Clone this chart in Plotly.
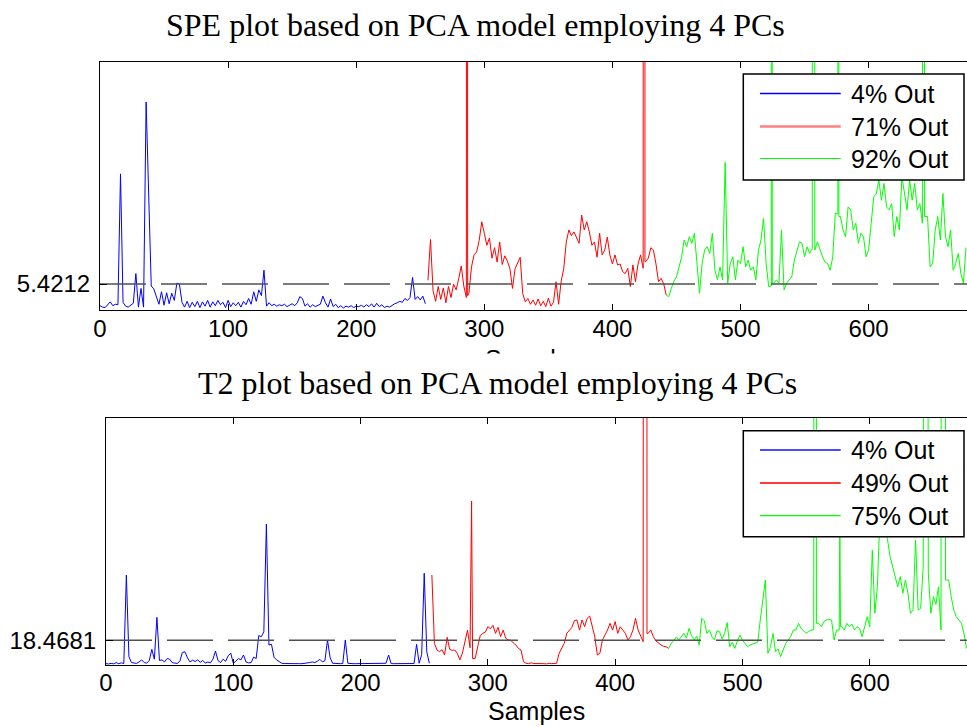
import plotly.graph_objects as go

W, H = 967, 727

# ---------------- data ----------------
STEP = 2  # samples between stored points

spe_limit = 5.4212
t2_limit = 18.4681
spe_labels = ["4% Out", "71% Out", "92% Out"]
t2_labels = ["4% Out", "49% Out", "75% Out"]
x_ticks = [0, 100, 200, 300, 400, 500, 600]

spe_blue_start = 0
spe_blue = [0.9, 0.6, 0.5, 1.0, 1.7, 0.9, 1.2, 1.1, 28.4, 1.6, 0.8, 0.6, 1.1, 1.4, 7.6, 0.6,
            4.5, 0.6, 43.4, 24.0, 5.0, 4.4, 3.0, 1.2, 3.8, 1.0, 3.6, 1.3, 3.5, 2.0, 5.6, 5.4,
            1.6, 0.6, 1.8, 0.5, 1.6, 0.7, 1.8, 0.5, 1.7, 0.8, 2.0, 0.6, 1.7, 0.9, 2.0, 1.1,
            1.6, 0.5, 2.0, 0.7, 1.5, 0.9, 1.6, 0.6, 1.8, 1.1, 2.4, 1.2, 3.8, 1.8, 4.2, 3.0,
            8.3, 0.8, 1.5, 0.9, 1.2, 0.8, 1.1, 0.9, 1.2, 0.7, 1.0, 1.3, 0.9, 1.5, 2.8, 2.4,
            0.8, 1.3, 0.6, 1.1, 0.7, 0.9, 1.2, 2.9, 1.5, 0.6, 2.3, 0.7, 1.2, 0.5, 0.9, 0.4,
            0.8, 0.6, 0.9, 0.5, 0.8, 0.7, 1.0, 0.6, 1.1, 0.7, 1.3, 0.6, 1.4, 0.7, 1.1, 0.5,
            0.8, 0.6, 1.0, 1.3, 1.5, 1.8, 1.6, 2.4, 2.0, 2.6, 6.8, 2.2, 2.8, 2.1, 2.9, 1.3]
spe_blue_spike_x, spe_blue_spike_y = [], []

spe_red_start = 256
spe_red = [6.2, 14.7, 4.0, 1.8, 4.9, 2.2, 4.6, 1.5, 4.9, 2.6, 5.4, 4.2, 6.5, 9.2, 5.0, 2.6,
           3.5, 9.0, 11.5, 12.1, 14.5, 18.4, 16.0, 13.5, 15.0, 10.8, 13.0, 10.0, 14.2, 9.5, 11.3, 10.2,
           8.6, 4.5, 8.6, 9.8, 11.0, 3.4, 1.7, 2.4, 1.2, 2.1, 1.0, 2.3, 0.9, 1.8, 0.7, 2.5,
           0.8, 1.6, 5.9, 1.2, 6.0, 8.6, 14.2, 16.7, 15.5, 16.3, 15.2, 13.9, 19.8, 16.7, 18.4, 16.3,
           13.5, 14.2, 11.0, 16.0, 11.5, 12.5, 15.2, 11.5, 9.6, 11.5, 9.4, 9.6, 8.0, 7.6, 8.7, 4.9,
           9.4, 5.9, 9.6, 11.5, 8.7, 10.1, 10.8, 13.0, 12.5, 9.6, 5.9, 6.6, 5.5, 3.1]
spe_red_spike_x = [286.5, 287.0, 424.1, 425.3, 425.4]
spe_red_spike_y = [400, 3.0, 400, 400, 10.1]

spe_green_start = 442
spe_green = [3.1, 2.8, 4.5, 6.0, 6.9, 9.0, 11.0, 14.6, 13.2, 15.3, 13.9, 16.0, 9.7, 3.5, 9.7, 12.5,
             13.2, 11.8, 16.0, 8.3, 6.3, 9.0, 6.3, 30.8, 5.6, 9.7, 11.1, 6.3, 10.4, 9.7, 13.2, 9.0,
             10.4, 8.3, 9.0, 6.3, 12.5, 14.6, 19.1, 9.7, 4.9, 5.0, 5.6, 6.3, 5.6, 16.7, 4.2, 5.6,
             6.3, 6.9, 10.4, 12.5, 14.2, 13.9, 11.1, 13.2, 11.8, 12.8, 12.5, 14.2, 12.5, 11.1, 10.0, 9.7,
             8.3, 11.1, 20.2, 20.0, 19.5, 16.7, 15.3, 21.5, 20.9, 16.7, 18.1, 13.9, 16.0, 15.3, 11.1, 12.5,
             18.1, 23.6, 24.3, 27.1, 22.9, 26.4, 21.5, 20.9, 22.2, 15.3, 19.5, 16.7, 27.8, 24.3, 20.9, 27.1,
             22.9, 26.4, 20.9, 22.2, 18.1, 19.5, 19.5, 9.0, 9.7, 16.7, 19.5, 14.6, 24.3, 15.3, 13.2, 16.7,
             8.3, 9.7, 11.8, 7.6, 5.6, 13.0]
spe_green_spike_x = [524.3, 524.8, 556.3, 557.6, 557.8, 576.3, 576.8, 642.2, 643.5, 643.7]
spe_green_spike_y = [400, 5.6, 400, 400, 12.5, 400, 19.5, 400, 400, 19.5]

t2_blue_start = 0
t2_blue = [1.2, 1.0, 1.4, 1.1, 2.0, 1.2, 1.8, 1.3, 66.7, 6.4, 2.0, 1.5, 1.4, 2.5, 4.0, 2.0,
           1.6, 3.5, 11.8, 4.5, 35.4, 3.5, 4.0, 2.5, 5.0, 4.5, 2.0, 1.6, 1.4, 3.0, 9.5, 10.0,
           5.5, 2.5, 3.8, 2.8, 4.0, 2.2, 3.6, 1.6, 2.4, 1.8, 4.5, 10.5, 3.5, 2.0, 4.5, 3.0,
           7.0, 9.0, 1.5, 3.0, 5.0, 4.0, 7.6, 2.5, 1.8, 2.0, 6.0, 5.0, 22.0, 21.1, 24.8, 104.4,
           15.0, 15.5, 6.0, 4.0, 2.5, 1.5, 1.3, 1.2, 1.2, 1.2, 1.2, 1.2, 1.2, 1.2, 1.3, 1.6,
           2.0, 2.5, 2.0, 3.0, 4.4, 2.5, 3.5, 18.7, 6.0, 1.5, 1.3, 1.2, 1.2, 1.3, 18.7, 1.5,
           1.2, 1.2, 1.2, 1.2, 1.2, 1.2, 1.2, 1.2, 1.2, 1.2, 1.2, 1.2, 1.2, 1.2, 1.5, 7.6,
           1.3, 1.2, 1.2, 1.2, 1.2, 1.2, 1.2, 1.2, 1.2, 1.3, 15.5, 1.5, 8.0, 68.0, 10.0, 1.5]
t2_blue_spike_x, t2_blue_spike_y = [], []

t2_red_start = 256
t2_red = [66.7, 16.2, 11.3, 10.1, 11.5, 7.6, 20.7, 11.8, 11.0, 11.3, 8.8, 4.0, 9.0, 18.7, 26.0, 13.0,
          5.0, 5.0, 13.7, 22.0, 23.6, 24.5, 28.5, 27.0, 29.5, 23.6, 28.0, 21.1, 26.0, 20.0, 18.7, 18.5,
          16.5, 15.0, 12.5, 11.3, 2.7, 1.5, 1.2, 1.8, 1.3, 1.4, 1.0, 1.6, 1.2, 1.0, 1.5, 1.2,
          1.3, 1.5, 8.9, 12.5, 16.2, 23.6, 26.0, 28.0, 33.0, 33.5, 26.0, 33.5, 28.5, 34.7, 36.4, 28.5,
          21.0, 7.6, 8.9, 18.7, 22.0, 26.1, 31.0, 26.0, 32.3, 23.6, 28.5, 26.0, 23.6, 18.7, 21.1, 26.1,
          34.7, 26.1, 21.1, 17.4, 1500, 23.6, 26.1, 21.1, 18.0, 16.2, 15.0, 14.0, 13.7, 12.5]
t2_red_spike_x = [287.2, 422.7, 424.8, 425.0]
t2_red_spike_y = [121.3, 1500, 1500, 23.6]

t2_green_start = 442
t2_green = [12.5, 16.2, 18.0, 21.0, 18.7, 21.5, 23.6, 20.0, 27.3, 22.0, 18.7, 21.5, 15.0, 34.7, 33.0, 23.6,
            26.1, 21.1, 18.7, 25.5, 24.8, 19.5, 23.6, 31.6, 13.7, 17.0, 12.5, 18.0, 22.4, 18.7, 16.5, 13.7,
            15.0, 15.5, 16.2, 17.0, 33.5, 48.2, 63.0, 8.9, 13.7, 23.6, 10.0, 12.0, 6.4, 11.3, 16.2, 18.7,
            21.5, 26.1, 26.1, 31.0, 27.3, 25.5, 23.6, 25.0, 26.1, 26.1, 31.0, 31.0, 28.5, 32.3, 33.5, 33.8,
            33.5, 18.7, 26.1, 26.0, 28.5, 26.1, 31.0, 28.5, 30.4, 26.1, 28.5, 27.3, 21.1, 28.5, 35.9, 28.5,
            85.2, 38.4, 58.0, 110, 120, 100, 92.6, 80.2, 72.8, 66.0, 58.0, 65.5, 53.2, 63.0, 53.2, 38.4,
            40.9, 92.6, 40.9, 42.0, 72.8, 1500, 68.0, 38.4, 50.7, 45.0, 58.0, 26.1, 1500, 63.0, 63.0, 50.7,
            40.9, 35.9, 33.0, 31.0, 23.6, 12.5]
t2_green_spike_x = [556.6, 557.9, 558.1, 576.5, 577.0, 656.7, 659.3, 659.5]
t2_green_spike_y = [1500, 1500, 31.0, 110, 28.5, 1500, 1500, 63.0]


def series(start, values, extra_x, extra_y):
    """Regular samples plus the extra points around narrow spikes, in sample order."""
    pts = list(zip(range(start, start + STEP * len(values), STEP), values))
    pts += list(zip(extra_x, extra_y))
    pts.sort(key=lambda p: p[0])
    return [p[0] for p in pts], [p[1] for p in pts]


# ---------------- styling helpers ----------------
def px(x):
    return x / W


def py(y):
    return 1 - y / H


COLORS = ["#0000ff", "#ff0000", "#00ff00"]
TICK_FONT = dict(family="Liberation Sans, Arial, sans-serif", size=24, color="black")
TITLE_FONT = dict(family="Liberation Serif, Times New Roman, serif", size=32, color="black")
LEGEND_FONT = dict(family="Liberation Sans, Arial, sans-serif", size=25, color="black")

SPE_X_MAX, SPE_Y_MAX = 676.8, 51.8
T2_X_MAX, T2_Y_MAX = 676.4, 182.9

fig = go.Figure()

panels = [
    ("x", "y",
     [(spe_blue_start, spe_blue, spe_blue_spike_x, spe_blue_spike_y),
      (spe_red_start, spe_red, spe_red_spike_x, spe_red_spike_y),
      (spe_green_start, spe_green, spe_green_spike_x, spe_green_spike_y)],
     spe_limit, SPE_X_MAX),
    ("x2", "y2",
     [(t2_blue_start, t2_blue, t2_blue_spike_x, t2_blue_spike_y),
      (t2_red_start, t2_red, t2_red_spike_x, t2_red_spike_y),
      (t2_green_start, t2_green, t2_green_spike_x, t2_green_spike_y)],
     t2_limit, T2_X_MAX),
]

for xa, ya, groups, limit, xmax in panels:
    for (start, vals, ex, ey), color in zip(groups, COLORS):
        xs, ys = series(start, vals, ex, ey)
        fig.add_trace(go.Scatter(x=xs, y=ys, mode="lines",
                                 line=dict(color=color, width=1), xaxis=xa, yaxis=ya,
                                 showlegend=False, hoverinfo="skip"))
    # control limit
    fig.add_trace(go.Scatter(x=[0, xmax], y=[limit, limit], mode="lines",
                             line=dict(color="#505050", width=1.5, dash="46px,15px"),
                             xaxis=xa, yaxis=ya, showlegend=False, hoverinfo="skip"))

axis_common = dict(showgrid=False, zeroline=False, showline=True, linecolor="black",
                   linewidth=1, ticks="inside", ticklen=6, tickcolor="black",
                   tickfont=TICK_FONT, automargin=False)

fig.update_layout(
    width=W, height=H, template="none",
    margin=dict(l=0, r=0, t=0, b=0),
    paper_bgcolor="white", plot_bgcolor="white",
    showlegend=False,
    xaxis=dict(axis_common, domain=[px(100), 1.0], range=[0, SPE_X_MAX], anchor="y",
               tickvals=x_ticks, mirror="ticks", ticklabelstandoff=-3),
    yaxis=dict(axis_common, domain=[py(310), py(61.7)], range=[0, SPE_Y_MAX], anchor="x",
               tickvals=[spe_limit], ticktext=[f"{spe_limit:.4f}"], ticklen=7,
               ticklabelstandoff=4),
    xaxis2=dict(axis_common, domain=[px(106), 1.0], range=[0, T2_X_MAX], anchor="y2",
                tickvals=x_ticks, mirror="ticks", ticklabelstandoff=-4),
    yaxis2=dict(axis_common, domain=[py(665.3), py(417.7)], range=[0, T2_Y_MAX], anchor="x2",
                tickvals=[t2_limit], ticktext=[f"{t2_limit:.4f}"], ticklen=7,
                ticklabelstandoff=4),
)

annotations = [
    dict(text="SPE plot based on PCA model employing 4 PCs", x=px(475), y=py(25),
         font=TITLE_FONT),
    dict(text="Samples", x=px(533.5), y=py(359), font=dict(TICK_FONT, size=25)),
    dict(text="T2 plot based on PCA model employing 4 PCs", x=px(497.5), y=py(383),
         font=TITLE_FONT, bgcolor="white", borderpad=11),
    dict(text="Samples", x=px(536.5), y=py(711), font=dict(TICK_FONT, size=25)),
]
for a in annotations:
    a.update(xref="paper", yref="paper", xanchor="center", yanchor="middle", showarrow=False)

shapes = []
legend_boxes = [
    (spe_labels, 74, 180, [93.5, 126.5, 158.5],
     [("#0000ff", 1.5), ("#ff8080", 2.5), ("#00ff00", 1.2)]),
    (t2_labels, 430.7, 536.7, [450, 483, 515.7],
     [("#4b4bff", 2), ("#ff3a3a", 2), ("#00ff00", 1.2)]),
]
for labels, top, bottom, rows, styles in legend_boxes:
    shapes.append(dict(type="rect", xref="paper", yref="paper", layer="above",
                       x0=px(743.3), x1=px(964), y0=py(bottom), y1=py(top),
                       fillcolor="white", line=dict(color="black", width=1.5)))
    for label, row, (color, width) in zip(labels, rows, styles):
        shapes.append(dict(type="line", xref="paper", yref="paper", layer="above",
                           x0=px(760), x1=px(840.7), y0=py(row), y1=py(row),
                           line=dict(color=color, width=width)))
        annotations.append(dict(text=label, x=px(849.3), y=py(row), xref="paper", yref="paper",
                                xanchor="left", yanchor="middle", showarrow=False,
                                font=LEGEND_FONT))

fig.update_layout(annotations=annotations, shapes=shapes)

fig.write_html("out.html")
